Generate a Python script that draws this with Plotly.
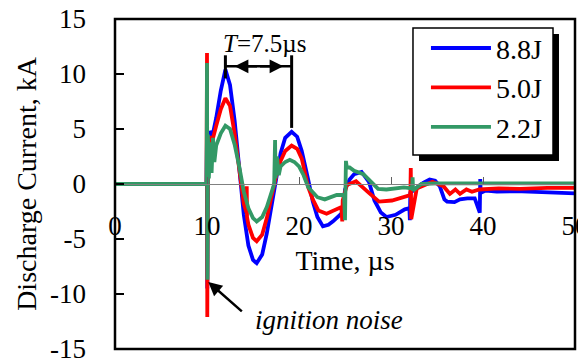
import plotly.graph_objects as go

# ---------------- data ----------------
series_names = ["8.8J", "5.0J", "2.2J"]
series_colors = ["#0000FF", "#FF0000", "#339966"]

t_88 = [0, 9.95, 10.0, 10.03, 10.1, 10.3, 10.6, 11.0, 11.5, 12.0, 12.5, 13.0, 13.5, 14.0, 14.5,
        15.0, 15.4, 16.0, 16.5, 17.0, 17.5, 18.0, 18.5, 19.2, 19.8, 20.3, 21.0, 21.5, 22.0, 22.6,
        23.2, 23.7, 24.6, 24.8, 25.0, 25.5, 26.0, 26.8, 27.6, 28.2, 28.9, 29.5, 30.5, 31.5, 32.0,
        32.05, 32.1, 32.6, 33.5, 34.2, 34.8, 35.3, 35.8, 36.1, 36.9, 37.5, 38.3, 39.1, 39.65, 39.7,
        39.75, 40.3, 41.5, 43.5, 46, 48, 50]
i_88 = [0, 0, 4.7, -9.5, 3.0, 4.8, 4.4, 6.0, 8.5, 10.4, 9.0, 5.8, 1.5, -2.8, -5.6,
        -6.9, -7.2, -6.4, -4.5, -2.0, 0.6, 2.8, 4.2, 4.75, 4.3, 3.0, 0.4, -1.6, -3.0, -3.85,
        -3.7, -3.4, -2.7, -2.5, -0.5, 0.4, 0.9, 1.1, 0.2, -1.5, -2.6, -3.0, -2.8, -2.3, -2.2,
        -3.3, -0.8, -0.5, 0.1, 0.4, 0.3, -0.2, -1.4, -1.6, -1.65, -1.4, -1.3, -1.3, -2.6, 0.45,
        -0.8, -0.6, -0.7, -0.65, -0.75, -0.8, -0.85]

t_50 = [0, 9.95, 10.0, 10.03, 10.1, 10.3, 10.6, 11.0, 11.5, 12.0, 12.5, 13.0, 13.5, 14.0, 14.3,
        14.32, 14.35, 14.5, 15.0, 15.4, 16.0, 16.5, 17.0, 17.5, 18.0, 18.5, 19.2, 19.8, 20.3, 21.0,
        21.5, 22.1, 23.0, 24.0, 24.6, 24.7, 24.75, 25.2, 26.2, 27.6, 28.7, 30.1, 31.5, 32.1, 32.15,
        32.2, 32.8, 34.5, 35.7, 36.4, 37.0, 37.5, 38.2, 38.8, 39.6, 41.7, 44, 47, 50]
i_50 = [0, 0, 11.9, -12.1, 2.5, 4.3, 4.0, 5.3, 6.8, 7.8, 7.1, 4.6, 1.4, -1.8, -2.6,
        -0.2, -3.0, -3.7, -4.9, -5.2, -4.6, -3.1, -1.3, 0.7, 2.1, 3.0, 3.5, 3.2, 2.3, -0.3,
        -1.4, -2.4, -2.7, -2.3, -2.1, -3.4, -1.5, -0.1, 0.25, -0.8, -1.6, -1.5, -1.1, -1.0, 1.45,
        -3.2, -0.4, 0.2, -0.2, -0.9, -0.5, -0.9, -0.5, -0.7, -0.5, -0.4, -0.45, -0.35, -0.35]

t_22 = [0, 9.95, 10.0, 10.05, 10.1, 10.2, 10.35, 10.5, 10.65, 10.8, 11.0, 11.5, 12.0, 12.5, 13.0,
        13.5, 14.0, 14.5, 15.0, 15.4, 16.0, 16.5, 17.0, 17.3, 17.4, 17.45, 17.6, 17.8, 18.0, 18.5,
        19.0, 19.5, 20.0, 20.5, 21.0, 21.5, 22.0, 22.8, 24.1, 24.9, 25.0, 25.1, 25.2, 25.5, 26.0,
        27.0, 28.0, 28.6, 29.5, 31.4, 32.3, 32.35, 32.4, 33.3, 35, 37, 40, 44, 50]
i_22 = [0, 0, 11.0, -8.7, 4.5, 0.5, 3.8, 1.0, 4.2, 2.0, 3.5, 4.6, 5.3, 5.0, 3.6,
        1.6, -0.7, -2.2, -3.1, -3.4, -3.0, -2.1, -0.9, 0.0, 4.0, 0.5, 2.5, 0.8, 1.6, 2.0,
        2.2, 2.0, 1.6, 0.8, -0.3, -0.8, -1.2, -1.4, -1.0, -1.0, -3.3, 2.1, 1.5, 1.5, 1.2,
        0.9, 0.0, -0.45, -0.5, -0.3, -0.4, 0.6, -0.6, 0.0, 0.05, 0.05, 0.05, 0.05, 0.05]

x_ticks = [0, 10, 20, 30, 40, 50]
x_tick_labels = ["0", "10", "20", "30", "40", "50"]
y_ticks = [-15, -10, -5, 0, 5, 10, 15]
y_tick_labels = ["-15", "-10", "-5", "0", "5", "10", "15"]

# annotation values
period_text = "<i>T</i>=7.5\u00b5s"
period_text_t, period_text_i = 16.2, 12.8
peak1_t, peak1_i = 12.0, 9.6
peak2_t, peak2_i = 19.2, 5.1
period_bar_i, period_top_i = 10.7, 11.7
noise_tip = (10.14, -8.9)
noise_tail = (13.95, -11.7)
noise_label_pos = (23.3, -12.4)

FONT = "Times New Roman, Liberation Serif, serif"

fig = go.Figure()
for name, color, t, i in zip(series_names, series_colors,
                             [t_88, t_50, t_22], [i_88, i_50, i_22]):
    fig.add_trace(go.Scatter(x=t, y=i, mode="lines", name=name, legendgroup=name,
                             line=dict(color=color, width=3.8)))

shapes = [
    # legend shadow and box
    dict(type="rect", xref="paper", yref="paper", x0=0.6609, x1=0.9652, y0=0.5697, y1=0.9545,
         fillcolor="black", line=dict(width=0), layer="above"),
    dict(type="rect", xref="paper", yref="paper", x0=0.6478, x1=0.9522, y0=0.5879, y1=0.9727,
         fillcolor="white", line=dict(color="black", width=1.5), layer="above"),
    # frame
    dict(type="rect", xref="paper", yref="paper", x0=0, x1=1, y0=0, y1=1,
         line=dict(color="black", width=2.5), layer="above"),
    # period markers
    dict(type="line", xref="x", yref="y", x0=peak1_t, x1=peak1_t, y0=peak1_i, y1=period_top_i,
         line=dict(color="black", width=3), layer="above"),
    dict(type="line", xref="x", yref="y", x0=peak2_t, x1=peak2_t, y0=peak2_i, y1=period_top_i,
         line=dict(color="black", width=3), layer="above"),
    dict(type="line", xref="x", yref="y", x0=peak1_t, x1=peak2_t, y0=period_bar_i, y1=period_bar_i,
         line=dict(color="black", width=2.5), layer="above"),
]

mid_t = (peak1_t + peak2_t) / 2
annotations = [
    dict(x=period_text_t, y=period_text_i, xref="x", yref="y", text=period_text, showarrow=False,
         font=dict(family=FONT, size=25, color="black")),
    dict(x=13.0, y=period_bar_i, ax=mid_t, ay=period_bar_i, axref="x", ayref="y",
         xref="x", yref="y", text="", showarrow=True, arrowhead=2, arrowsize=1.1,
         arrowwidth=2.5, arrowcolor="black", standoff=0, startstandoff=0),
    dict(x=18.3, y=period_bar_i, ax=mid_t, ay=period_bar_i, axref="x", ayref="y",
         xref="x", yref="y", text="", showarrow=True, arrowhead=2, arrowsize=1.1,
         arrowwidth=2.5, arrowcolor="black", standoff=0, startstandoff=0),
    dict(x=noise_tip[0], y=noise_tip[1], ax=noise_tail[0], ay=noise_tail[1], axref="x", ayref="y",
         xref="x", yref="y", text="", showarrow=True, arrowhead=2, arrowsize=1.1,
         arrowwidth=2.5, arrowcolor="black", standoff=0, startstandoff=0),
    dict(x=noise_label_pos[0], y=noise_label_pos[1], xref="x", yref="y",
         text="<i>ignition noise</i>", showarrow=False,
         font=dict(family=FONT, size=27, color="black")),
]

# the page body has an 8px default margin, so margins compensate for it
fig.update_layout(
    width=586, height=360,
    margin=dict(l=107, r=19, t=11, b=19, autoexpand=False),
    paper_bgcolor="white", plot_bgcolor="white",
    font=dict(family=FONT, size=27, color="black"),
    showlegend=True,
    legend=dict(x=0.676, y=0.987, xanchor="left", yanchor="top",
                bgcolor="rgba(0,0,0,0)", borderwidth=0,
                font=dict(family=FONT, size=28, color="black"),
                itemwidth=60, tracegroupgap=24, traceorder="normal"),
    xaxis=dict(range=[0, 50], anchor="free", position=0.5, showline=True, automargin=False,
               linecolor="#808080", linewidth=1, ticks="inside", ticklen=7,
               tickcolor="#606060", tickwidth=1, tickvals=x_ticks, ticktext=x_tick_labels,
               tickfont=dict(family=FONT, size=27), ticklabelstandoff=18,
               ticklabeloverflow="allow",
               showgrid=False, zeroline=False,
               title=dict(text="Time, \u00b5s", font=dict(family=FONT, size=28), standoff=9)),
    yaxis=dict(range=[-15, 15], ticks="inside", ticklen=9, tickwidth=1.5, tickcolor="black",
               tickvals=y_ticks, ticktext=y_tick_labels, automargin=False,
               tickfont=dict(family=FONT, size=27), ticklabelstandoff=28,
               ticklabeloverflow="allow",
               showgrid=False, zeroline=False, showline=False,
               title=dict(text="Discharge Current, kA", font=dict(family=FONT, size=28),
                          standoff=5)),
    shapes=shapes,
    annotations=annotations,
)

fig.write_html("out.html")
